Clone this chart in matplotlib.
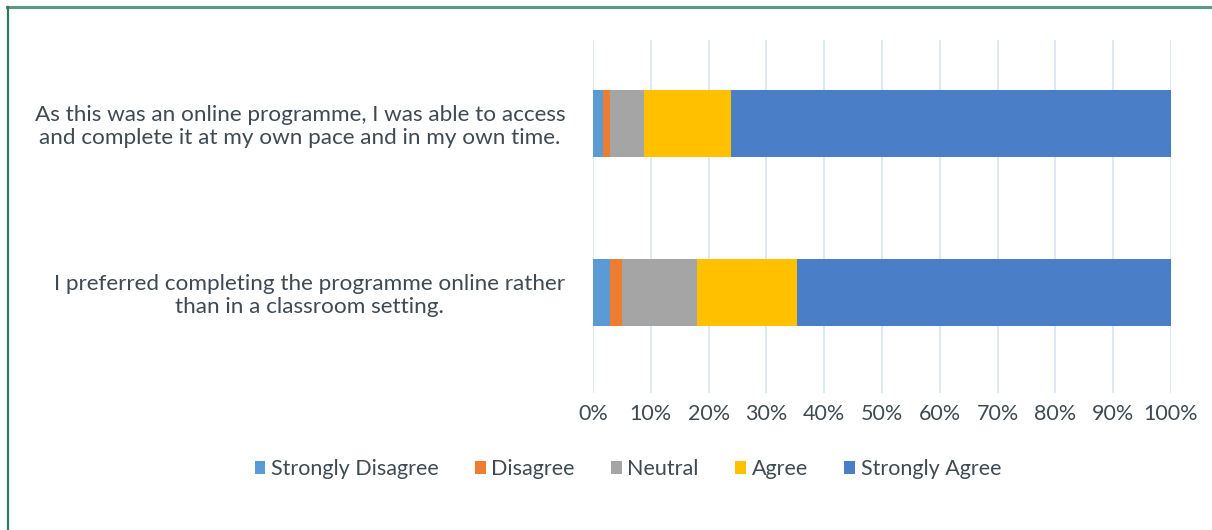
import matplotlib
matplotlib.use("Agg")
import matplotlib.pyplot as plt
from matplotlib.ticker import FuncFormatter
import numpy as np

plt.rcParams['font.family'] = ['Lato', 'DejaVu Sans']

# survey statements (top to bottom) and response shares in %
statements = [
    "As this was an online programme, I was able to access\nand complete it at my own pace and in my own time.",
    "I preferred completing the programme online rather\nthan in a classroom setting.",
]
responses = ["Strongly Disagree", "Disagree", "Neutral", "Agree", "Strongly Agree"]
strongly_disagree = [1.8, 2.9]
disagree = [1.1, 2.1]
neutral = [6.0, 13.0]
agree = [15.0, 17.3]
strongly_agree = [76.1, 64.7]
colors = ["#5b9bd5", "#ed7d31", "#a5a5a5", "#ffc000", "#4a7ec6"]

text_color = "#3f4a52"

fig = plt.figure(figsize=(12.12, 5.30), dpi=100)
ax = fig.add_axes([0.4893, 0.2585, 0.4769, 0.666])

ypos = np.array([1, 0])
left = np.zeros(len(statements))
for name, vals, c in zip(responses,
                         [strongly_disagree, disagree, neutral, agree, strongly_agree],
                         colors):
    ax.barh(ypos, vals, left=left, height=0.396, color=c, label=name, zorder=3)
    left += np.array(vals)

ax.set_xlim(0, 100)
ax.set_ylim(-0.595, 1.494)
ax.set_xticks(np.arange(0, 101, 10))
ax.xaxis.set_major_formatter(FuncFormatter(lambda v, p: "%d%%" % v))
ax.set_yticks(ypos)
ax.set_yticklabels(statements, multialignment='center', linespacing=1.15)
ax.tick_params(axis='both', length=0, colors=text_color)
ax.tick_params(axis='x', pad=8, labelsize=15.5)
ax.tick_params(axis='y', pad=20, labelsize=16.2)
ax.grid(axis='x', color="#d6e6f2", linewidth=1.2, zorder=0)
for s in ax.spines.values():
    s.set_visible(False)

leg = fig.legend(loc='center', bbox_to_anchor=(0.518, 0.115), ncol=5, frameon=False,
                 fontsize=15.5, handlelength=0.5, handleheight=0.5,
                 handletextpad=0.25, columnspacing=1.7)
for t in leg.get_texts():
    t.set_color(text_color)

# green frame along the top and left edges
fig.add_artist(plt.Line2D([0.006, 1.0], [0.9875, 0.9875], transform=fig.transFigure,
                          color="#5a9a82", linewidth=2.2))
fig.add_artist(plt.Line2D([0.0066, 0.0066], [0.0, 0.9875], transform=fig.transFigure,
                          color="#2f7a5e", linewidth=1.6))

fig.savefig("out.png", dpi=100)
